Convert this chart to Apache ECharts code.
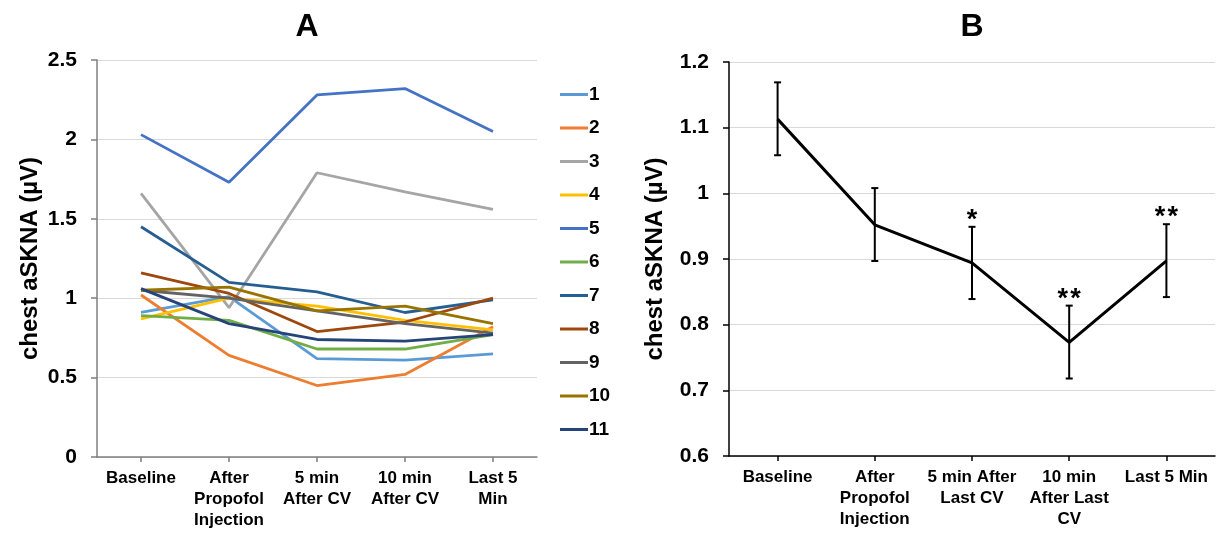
<!DOCTYPE html>
<html>
<head>
<meta charset="utf-8">
<script src="https://cdn.jsdelivr.net/npm/echarts@6/dist/echarts.min.js"></script>
<style>
html,body{margin:0;padding:0;background:#fff;}
#c{width:1225px;height:533px;}
</style>
</head>
<body>
<div id="c"></div>
<script>
// ---------- Data ----------
const categoriesA = ['Baseline', 'After\nPropofol\nInjection', '5 min\nAfter CV', '10 min\nAfter CV', 'Last 5\nMin'];
const categoriesB = ['Baseline', 'After\nPropofol\nInjection', '5 min After\nLast CV', '10 min\nAfter Last\nCV', 'Last 5 Min'];
const subjectNames = ['1','2','3','4','5','6','7','8','9','10','11'];
const s1  = [0.91, 1.01, 0.62, 0.61, 0.65];
const s2  = [1.02, 0.64, 0.45, 0.52, 0.82];
const s3  = [1.66, 0.94, 1.79, 1.67, 1.56];
const s4  = [0.87, 1.00, 0.95, 0.86, 0.80];
const s5  = [2.03, 1.73, 2.28, 2.32, 2.05];
const s6  = [0.89, 0.86, 0.68, 0.68, 0.77];
const s7  = [1.45, 1.10, 1.04, 0.91, 0.99];
const s8  = [1.16, 1.03, 0.79, 0.85, 1.00];
const s9  = [1.05, 1.00, 0.92, 0.84, 0.78];
const s10 = [1.05, 1.07, 0.92, 0.95, 0.84];
const s11 = [1.06, 0.84, 0.74, 0.73, 0.77];
const subjectValues = [s1, s2, s3, s4, s5, s6, s7, s8, s9, s10, s11];
const meanB  = [1.113, 0.952, 0.894, 0.773, 0.897];
const upperB = [1.169, 1.008, 0.949, 0.829, 0.953];
const lowerB = [1.058, 0.897, 0.839, 0.718, 0.842];
const starsB = ['', '', '*', '*\u200A*', '*\u200A*'];
const yTicksA = {min: 0, max: 2.5, interval: 0.5};
const yTicksB = {min: 0.6, max: 1.2, interval: 0.1};

// ---------- Styles ----------
const colors = ['#5B9BD5','#ED7D31','#A5A5A5','#FFC000','#4472C4','#70AD47','#255E91','#9E480E','#636363','#997300','#264478'];
const FONT = 'Liberation Sans, Arial, sans-serif';
const labelStyle = {color:'#000', fontWeight:'bold', fontFamily:FONT};

function yAxis(gridIndex, t, lineColor, nameGap){
  return {
    type:'value', gridIndex, min:t.min, max:t.max, interval:t.interval,
    name:'chest aSKNA (µV)', nameLocation:'middle', nameGap:nameGap, nameRotate:90,
    nameTextStyle:{...labelStyle, fontSize:24},
    axisLine:{show:true, lineStyle:{color:lineColor, width:1.5}},
    axisTick:{show:true, length:6, lineStyle:{color:lineColor, width:1.5}},
    axisLabel:{...labelStyle, fontSize:21, margin:20, formatter:v => String(+v.toFixed(1))},
    splitLine:{show:true, lineStyle:{color:'#d9d9d9', width:1.2}}
  };
}
function xAxis(gridIndex, cats, lineColor){
  return {
    type:'category', gridIndex, data:cats, boundaryGap:true,
    axisLine:{show:true, lineStyle:{color:lineColor, width:1.5}},
    axisTick:{show:true, alignWithLabel:true, length:5, lineStyle:{color:lineColor, width:1.5}},
    axisLabel:{...labelStyle, fontSize:17, lineHeight:21, margin:11, interval:0},
    splitLine:{show:false}
  };
}

const series = subjectValues.map((vals, i) => ({
  name: subjectNames[i], type:'line', xAxisIndex:0, yAxisIndex:0,
  data: vals, showSymbol:false, symbol:'none',
  lineStyle:{color:colors[i], width:2.8}, itemStyle:{color:colors[i]},
  emphasis:{disabled:true}, animation:false
}));

series.push({
  name:'mean', type:'line', xAxisIndex:1, yAxisIndex:1, data: meanB,
  showSymbol:false, symbol:'none', lineStyle:{color:'#000', width:3},
  itemStyle:{color:'#000'}, animation:false, z:3
});
series.push({
  name:'err', type:'custom', xAxisIndex:1, yAxisIndex:1, animation:false, z:4,
  data: meanB.map((m, i) => [i, upperB[i], lowerB[i]]),
  renderItem: function(params, api){
    const i = api.value(0);
    const top = api.coord([i, api.value(1)]);
    const bot = api.coord([i, api.value(2)]);
    const x = top[0], cw = 3.5;
    const st = {stroke:'#000', lineWidth:2};
    const children = [
      {type:'line', shape:{x1:x, y1:top[1], x2:x, y2:bot[1]}, style:st},
      {type:'line', shape:{x1:x-cw, y1:top[1], x2:x+cw, y2:top[1]}, style:st},
      {type:'line', shape:{x1:x-cw, y1:bot[1], x2:x+cw, y2:bot[1]}, style:st}
    ];
    const s = starsB[params.dataIndex];
    if (s) {
      children.push({type:'text', x:x, y:top[1]+7, style:{text:s, fill:'#000',
        font:'bold 27px ' + FONT, textAlign:'center', textVerticalAlign:'bottom'}});
    }
    return {type:'group', children};
  }
});

const option = {
  backgroundColor:'#fff',
  animation:false,
  grid:[
    {left:97, top:60, width:440, height:397},
    {left:729, top:62, width:486, height:394}
  ],
  xAxis:[xAxis(0, categoriesA, '#7f7f7f'), xAxis(1, categoriesB, '#000')],
  yAxis:[yAxis(0, yTicksA, '#7f7f7f', 55), yAxis(1, yTicksB, '#000', 62)],
  legend:{
    data: subjectNames, orient:'vertical', left:555, top:80,
    icon:'rect', itemWidth:28, itemHeight:3, itemGap:14.5,
    textStyle:{...labelStyle, fontSize:19, padding:[0,0,0,-4]},
    selectedMode:false
  },
  graphic:[
    {type:'text', x:307, y:27, style:{text:'A', font:'bold 32px ' + FONT, fill:'#000', textAlign:'center', textVerticalAlign:'middle'}},
    {type:'text', x:972, y:27, style:{text:'B', font:'bold 32px ' + FONT, fill:'#000', textAlign:'center', textVerticalAlign:'middle'}}
  ],
  series
};
const chart = echarts.init(document.getElementById('c'), null, {renderer:'canvas'});
chart.setOption(option);
</script>
</body>
</html>
